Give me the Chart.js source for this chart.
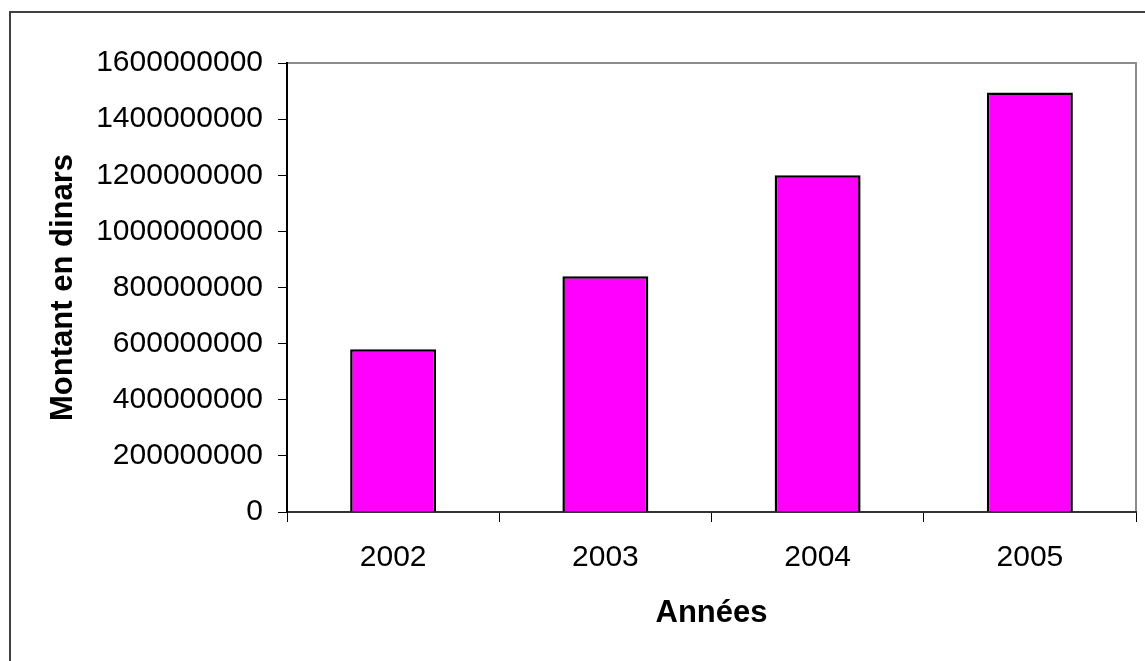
<!DOCTYPE html>
<html>
<head>
<meta charset="utf-8">
<script src="https://cdn.jsdelivr.net/npm/chart.js@4"></script>
<style>
  html, body { margin: 0; padding: 0; background: #fff; }
  #wrap { position: absolute; left: 0; top: 0; width: 1145px; height: 661px; }
</style>
</head>
<body>
<div id="wrap"><canvas id="montants"></canvas></div>
<script>
// Montants annuels (en dinars)
const annees = ['2002', '2003', '2004', '2005'];
const montants = [580000000, 840000000, 1200000000, 1495000000];
const yMax = 1600000000;
const yStep = 200000000;

// Cadre extérieur + bordure grise du haut et de droite de la zone de tracé
const cadre = {
    id: 'cadre',
    beforeDraw(chart) {
        const c = chart.ctx;
        const a = chart.chartArea;
        c.save();
        c.strokeStyle = '#404040';
        c.lineWidth = 2;
        c.beginPath();
        c.moveTo(10, chart.height + 5);
        c.lineTo(10, 12);
        c.lineTo(chart.width + 5, 12);
        c.stroke();
        c.strokeStyle = '#8c8c8c';
        c.lineWidth = 2;
        c.beginPath();
        c.moveTo(a.left, a.top);
        c.lineTo(a.right, a.top);
        c.lineTo(a.right, a.bottom);
        c.stroke();
        c.restore();
    }
};

const ctx = document.getElementById('montants').getContext('2d');
new Chart(ctx, {
    type: 'bar',
    data: {
        labels: annees,
        datasets: [{
            data: montants,
            backgroundColor: '#ff00ff',
            borderColor: '#000000',
            borderWidth: 2.5,
            barPercentage: 0.405,
            categoryPercentage: 1.0
        }]
    },
    options: {
        responsive: true,
        maintainAspectRatio: false,
        animation: false,
        layout: { padding: { left: 0, top: 63, right: 9, bottom: 0 } },
        plugins: {
            legend: { display: false },
            tooltip: { enabled: false }
        },
        scales: {
            x: {
                offset: true,
                afterFit(scale) { scale.height = 149; },
                grid: {
                    offset: true,
                    drawOnChartArea: false,
                    tickLength: 10,
                    color: '#000',
                    lineWidth: 1
                },
                border: { color: '#333', width: 2 },
                ticks: {
                    color: '#000',
                    padding: 18,
                    font: { family: 'Liberation Sans', size: 30 },
                    maxRotation: 0
                },
                title: {
                    display: true,
                    text: 'Années',
                    color: '#000',
                    font: { family: 'Liberation Sans', size: 31, weight: 'bold' },
                    padding: { top: 0, bottom: 29 }
                }
            },
            y: {
                min: 0,
                max: yMax,
                afterFit(scale) { scale.width = 287; },
                grid: {
                    drawOnChartArea: false,
                    tickLength: 9,
                    color: '#000',
                    lineWidth: 1
                },
                border: { color: '#000', width: 2 },
                ticks: {
                    stepSize: yStep,
                    color: '#000',
                    padding: 15,
                    font: { family: 'Liberation Sans', size: 30 },
                    callback: (v) => String(v)
                },
                title: {
                    display: true,
                    text: 'Montant en dinars',
                    color: '#000',
                    font: { family: 'Liberation Sans', size: 31, weight: 'bold' },
                    padding: { top: 45, bottom: 0 }
                }
            }
        }
    },
    plugins: [cadre]
});
</script>
</body>
</html>
